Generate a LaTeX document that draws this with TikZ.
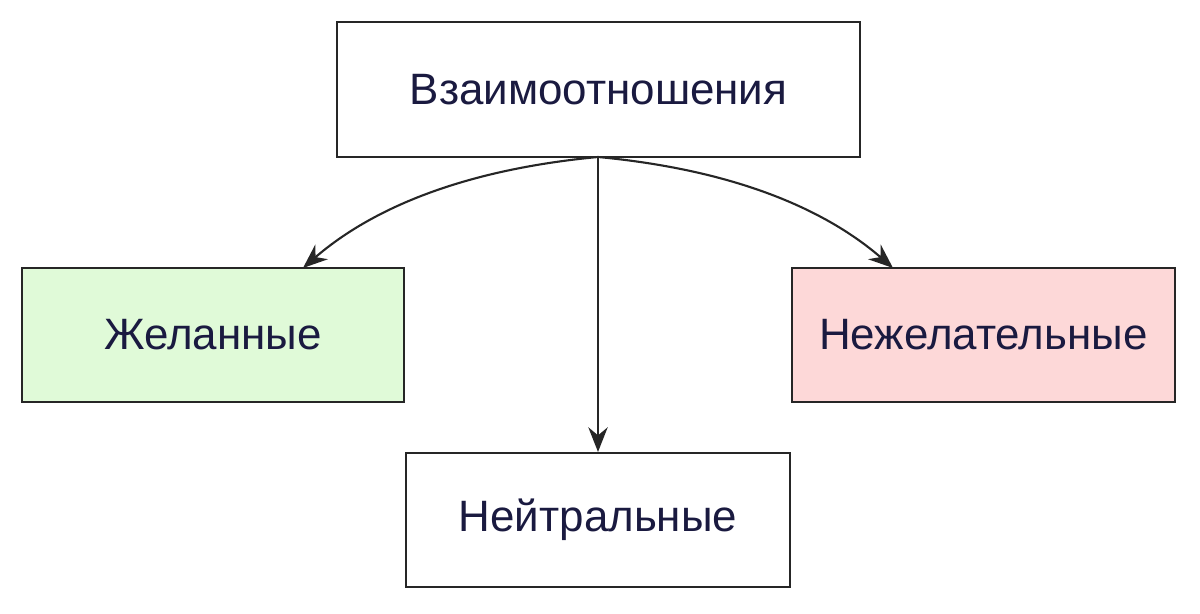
\documentclass[tikz,border=0pt]{standalone}
\usepackage{fontspec}
\setmainfont{Liberation Sans}
\usetikzlibrary{arrows.meta}
\definecolor{txt}{HTML}{1A1A40}
\definecolor{gfill}{HTML}{E0FAD8}
\definecolor{rfill}{HTML}{FDD8D8}
\tikzset{
  box/.style={draw=black!85, line width=1.2pt, text=txt, font=\fontsize{25}{30}\selectfont, anchor=center, inner sep=0pt},
  conn/.style={draw=black!85, line width=1.2pt, -{Stealth[length=14pt,width=11pt]}}
}
\begin{document}
\begin{tikzpicture}[x=0.02cm,y=-0.02cm]
\useasboundingbox (0,0) rectangle (1200,614);
\node[box, minimum width=523*0.02cm, minimum height=135*0.02cm] (top) at (598.5,89.5) {Взаимоотношения};
\node[box, fill=gfill, minimum width=382*0.02cm, minimum height=134*0.02cm] (left) at (213,335) {Желанные};
\node[box, fill=rfill, minimum width=383*0.02cm, minimum height=134*0.02cm] (right) at (983.5,335) {Нежелательные};
\node[box, minimum width=384*0.02cm, minimum height=134*0.02cm] (bot) at (598,520) {Нейтральные};
\coordinate (s) at (598,157);
\draw[conn] (s) .. controls (460,170) and (370,210) .. (303,268);
\draw[conn] (s) -- (bot.north);
\draw[conn] (s) .. controls (736,170) and (826,210) .. (893,268);
\end{tikzpicture}
\end{document}
